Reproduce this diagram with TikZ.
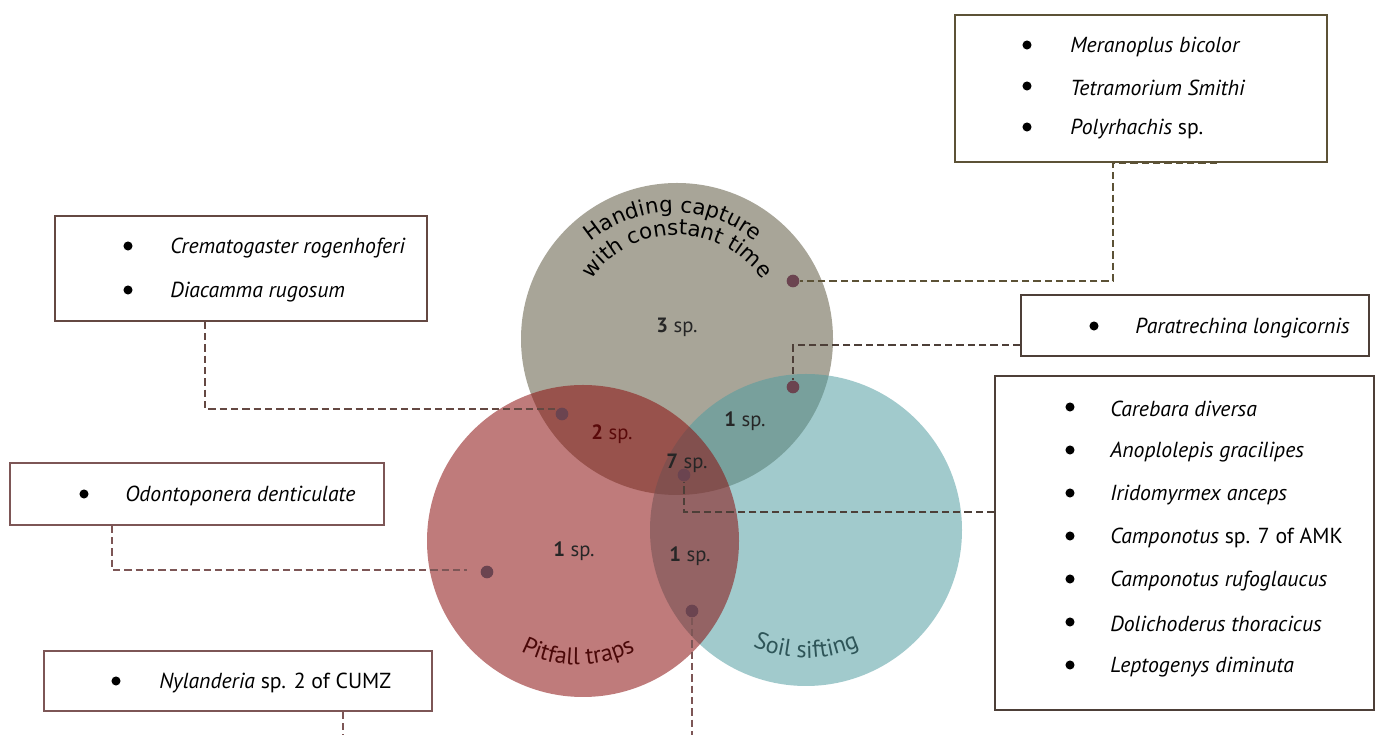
\documentclass[tikz,border=0pt]{standalone}
\usepackage{fontspec}
\setmainfont{PT Sans}
\newfontfamily\dvfont{DejaVu Sans}
\usetikzlibrary{decorations.text,fit}
\definecolor{cgray}{RGB}{168,165,152}
\definecolor{cteal}{RGB}{78,156,160}
\definecolor{cred}{RGB}{139,15,15}
\definecolor{olivebr}{RGB}{92,82,54}
\definecolor{brownA}{RGB}{100,72,66}
\definecolor{darkbr}{RGB}{77,63,56}
\definecolor{rosebr}{RGB}{125,86,86}
\definecolor{dotc}{RGB}{107,68,80}
\definecolor{pitc}{RGB}{74,8,8}
\definecolor{soilc}{RGB}{46,85,88}
\definecolor{twoc}{RGB}{90,10,10}
\newcommand\listfont{\fontsize{16.3pt}{19pt}\selectfont}
\newcommand\numfont{\fontsize{15.5pt}{18pt}\selectfont}
\newcommand\handfont{\dvfont\fontsize{16pt}{19pt}\selectfont}
\newcommand\botfont{\fontsize{18pt}{21pt}\selectfont}
\begin{document}
\begin{tikzpicture}[x=0.75pt,y=0.75pt,
  listbox/.style={draw=#1, line width=1.1pt, inner sep=0pt, fill=white},
  conn/.style={draw=#1, line width=1.8pt, dash pattern=on 5.5pt off 3pt},
  bulletdot/.style={circle, fill=black, inner sep=0pt, minimum size=6.8pt},
  item/.style={anchor=west, inner sep=0pt, font=\listfont},
  spot/.style={circle, fill=dotc, inner sep=0pt, minimum size=9.5pt},
  count/.style={inner sep=0pt, font=\numfont, text=black!85},
]
\useasboundingbox (0,0) rectangle (1379,735);
\fill[white] (0,0) rectangle (1379,735);

% circles
\coordinate (cg) at (677,396);
\coordinate (ct) at (806,205);
\coordinate (cr) at (583,194);
\fill[cgray] (cg) circle (156);
\fill[cteal, fill opacity=0.53] (ct) circle (156);
\fill[cred, fill opacity=0.55] (cr) circle (156);

% circle labels
\path[decorate, decoration={text along path, text align=center,
  text={|\handfont|Handing capture}}] (673,396) ++(170:127) arc (170:10:127);
\path[decorate, decoration={text along path, text align=center,
  text={|\handfont|with constant time}}] (677,396) ++(175:104) arc (175:5:104);
\path[decorate, decoration={text along path, text align=center, text color=pitc,
  text={|\botfont|Pitfall traps}}] (578,194) ++(200:124) arc (200:340:124);
\path[decorate, decoration={text along path, text align=center, text color=soilc,
  text={|\botfont|Soil sifting}}] (806,205) ++(200:128) arc (200:340:128);

% counts
\node[count] (n3) at (677,408) {\textbf{3} sp.};
\node[count, text=twoc] (n2) at (612,301) {\textbf{2} sp.};
\node[count] (n1a) at (745,314) {\textbf{1} sp.};
\node[count] (n7) at (687,272) {\textbf{7} sp.};
\node[count] (n1b) at (574,184) {\textbf{1} sp.};
\node[count] (n1c) at (690,179) {\textbf{1} sp.};

% spots
\node[spot] (d1) at (793,454) {};
\node[spot] (d2) at (793,348) {};
\node[spot] (d3) at (562,321) {};
\node[spot] (d4) at (684,260) {};
\node[spot] (d5) at (487,163) {};
\node[spot] (d6) at (692,124) {};

% boxes
\node[listbox=olivebr, fit={(955,573) (1327,720)}] (B1) {};
\node[listbox=brownA, fit={(55,414) (427,519)}] (B2) {};
\node[listbox=darkbr, fit={(1021,379) (1369,440)}] (B3) {};
\node[listbox=darkbr, fit={(995,25) (1374,359)}] (B4) {};
\node[listbox=rosebr, fit={(10,210) (384,272)}] (B5) {};
\node[listbox=rosebr, fit={(44,24) (432,84)}] (B6) {};

% box items
\node[bulletdot] (b11) at (1027,690) {};
\node[item] (t11) at (1070,688) {\textit{Meranoplus bicolor}};
\node[bulletdot] (b12) at (1027,649) {};
\node[item] (t12) at (1070,647) {\textit{Tetramorium Smithi}};
\node[bulletdot] (b13) at (1027,608) {};
\node[item] (t13) at (1070,606) {\textit{Polyrhachis} sp.};

\node[bulletdot] (b21) at (128,489) {};
\node[item] (t21) at (170,487) {\textit{Crematogaster rogenhoferi}};
\node[bulletdot] (b22) at (128,445) {};
\node[item] (t22) at (170,443) {\textit{Diacamma rugosum}};

\node[bulletdot] (b31) at (1094,409) {};
\node[item] (t31) at (1135,407) {\textit{Paratrechina longicornis}};

\node[bulletdot] (b41) at (1070,328) {};
\node[item] (t41) at (1110,326) {\textit{Carebara diversa}};
\node[bulletdot] (b42) at (1070,285) {};
\node[item] (t42) at (1110,283) {\textit{Anoplolepis gracilipes}};
\node[bulletdot] (b43) at (1070,242) {};
\node[item] (t43) at (1110,240) {\textit{Iridomyrmex anceps}};
\node[bulletdot] (b44) at (1070,199) {};
\node[item] (t44) at (1110,197) {\textit{Camponotus} sp. 7 of AMK};
\node[bulletdot] (b45) at (1070,156) {};
\node[item] (t45) at (1110,154) {\textit{Camponotus rufoglaucus}};
\node[bulletdot] (b46) at (1070,113) {};
\node[item] (t46) at (1110,111) {\textit{Dolichoderus thoracicus}};
\node[bulletdot] (b47) at (1070,70) {};
\node[item] (t47) at (1110,68) {\textit{Leptogenys diminuta}};

\node[bulletdot] (b51) at (84,241) {};
\node[item] (t51) at (125,239) {\textit{Odontoponera denticulate}};

\node[bulletdot] (b61) at (116,54) {};
\node[item] (t61) at (159,52) {\textit{Nylanderia} sp. 2 of CUMZ};

% connector helper coordinates
\coordinate (c1a) at (1217,573);
\coordinate (c1b) at (1113,573);
\coordinate (c2a) at (205,326);
\coordinate (c3a) at (900,390);
\coordinate (c4a) at (900,223);
\coordinate (c5a) at (112,165);
\coordinate (c6a) at (343,0);
\coordinate (c7a) at (692,0);

% connectors
\draw[conn=olivebr] (B1.south -| c1a) -- (B1.south -| c1b) |- (d1);
\draw[conn=brownA] (B2.south -| c2a) -- (c2a) -- (d3.west |- c2a);
\draw[conn=darkbr] (B3.west |- c3a) -| (d2);
\draw[conn=darkbr] (B4.west |- c4a) -| (d4);
\draw[conn=rosebr] (B5.south -| c5a) -- (c5a) -- ([xshift=-10pt]d5.west |- c5a);
\draw[conn=rosebr] (B6.south -| c6a) -- (c6a);
\draw[conn=rosebr] (d6) -- (c7a);
\end{tikzpicture}
\end{document}
